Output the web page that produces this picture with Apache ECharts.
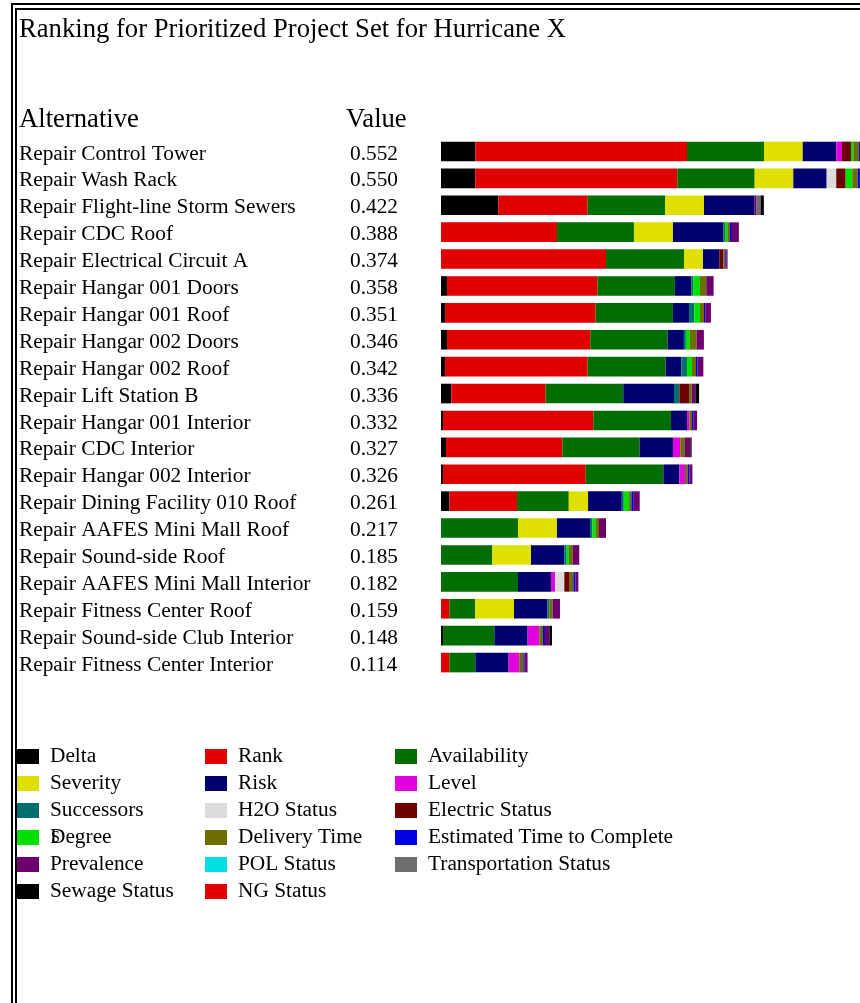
<!DOCTYPE html>
<html><head><meta charset="utf-8">
<script src="https://cdn.jsdelivr.net/npm/echarts@6/dist/echarts.min.js"></script>
<style>html,body{margin:0;padding:0;background:#fff;}#c{width:860px;height:1003px;}</style>
</head><body><div id="c"></div>
<script>
const alternatives = ["Repair Control Tower","Repair Wash Rack","Repair Flight-line Storm Sewers","Repair CDC Roof","Repair Electrical Circuit A","Repair Hangar 001 Doors","Repair Hangar 001 Roof","Repair Hangar 002 Doors","Repair Hangar 002 Roof","Repair Lift Station B","Repair Hangar 001 Interior","Repair CDC Interior","Repair Hangar 002 Interior","Repair Dining Facility 010 Roof","Repair AAFES Mini Mall Roof","Repair Sound-side Roof","Repair AAFES Mini Mall Interior","Repair Fitness Center Roof","Repair Sound-side Club Interior","Repair Fitness Center Interior"];
const totals = [0.552,0.550,0.422,0.388,0.374,0.358,0.351,0.346,0.342,0.336,0.332,0.327,0.326,0.261,0.217,0.185,0.182,0.159,0.148,0.114];

const delta        = [.0448,.0448,.0748,0,0,.0078,.0052,.0078,.0052,.0135,.0026,.0065,.0026,.0109,0,0,0,0,.0026,0];
const rank         = [.2764,.2637,.1167,.1514,.2154,.1967,.1967,.1871,.1863,.1231,.1963,.1519,.1863,.0884,0,0,0,.0109,0,.0109];
const availability = [.1005,.101,.1013,.1005,.1018,.1009,.1009,.1009,.1018,.1014,.1014,.1009,.1014,.0675,.1005,.067,.1005,.0335,.067,.0339];
const severity     = [.0505,.0504,.0505,.0509,.0248,0,0,0,0,0,0,0,0,.0252,.0509,.0505,0,.0509,0,0];
const risk         = [.0439,.0436,.0661,.0657,.0213,.0213,.0209,.0213,.0205,.0662,.0209,.0435,.0209,.044,.0431,.0435,.0431,.0435,.0435,.0435];
const level        = [.0074,0,0,0,0,0,0,0,0,0,.003,.0096,.0074,0,0,0,.0052,0,.0152,.0139];
const successors   = [0,0,0,.0022,0,.0026,.007,.0026,.0074,.007,0,0,0,.0026,.003,.003,0,.0026,0,0];
const h2oStatus    = [0,.0125,0,0,0,0,0,0,0,0,0,0,0,0,0,0,.0122,0,0,0];
const electric     = [.0117,.0123,0,0,.0052,0,0,0,0,.0126,0,0,0,0,0,0,.0061,0,0,0];
const degree       = [.003,.0086,0,.003,0,.0087,.0074,.0052,.0065,0,0,0,0,.007,.0044,.003,0,0,0,0];
const delivery     = [.0074,.007,0,.0035,.0026,.0083,.0052,.0087,.0052,.0035,.0035,.0061,.0035,.003,.0044,.0052,.0057,.0044,.0048,.0052];
const estTime      = [.003,.003,0,.0026,.0013,0,.0017,0,.0022,0,.0022,0,.0022,.003,0,0,.0026,0,.0026,.0017];
const prevalence   = [.0034,.0031,.0026,.0091,.0017,.0096,.0074,.0096,.0074,.0048,.0044,.007,.0039,.0078,.0091,.0083,.0039,.0096,.0057,.0039];
const polStatus    = [0,0,0,0,0,0,0,0,0,0,0,0,0,0,0,0,0,0,0,0];
const transport    = [0,0,.0052,0,0,0,0,0,0,0,0,0,0,0,0,0,0,0,0,0];
const sewage       = [0,0,.0043,0,0,0,0,0,0,.0048,0,.0017,0,0,0,0,0,0,.0035,0];
const ngStatus     = [0,0,0,0,0,0,0,0,0,0,0,0,0,0,0,0,0,0,0,0];

const seriesDefs = [
  ["Delta", delta, "#000000"],
  ["Rank", rank, "#e00000"],
  ["Availability", availability, "#006e00"],
  ["Severity", severity, "#e0e000"],
  ["Risk", risk, "#00006e"],
  ["Level", level, "#e000e0"],
  ["Successors", successors, "#006e6e"],
  ["H2O Status", h2oStatus, "#dcdcdc"],
  ["Electric Status", electric, "#6e0000"],
  ["Degree", degree, "#00e000"],
  ["Delivery Time", delivery, "#6e6e00"],
  ["Estimated Time to Complete", estTime, "#0000e0"],
  ["Prevalence", prevalence, "#6e006e"],
  ["POL Status", polStatus, "#00e0e0"],
  ["Transportation Status", transport, "#6e6e6e"],
  ["Sewage Status", sewage, "#000000"],
  ["NG Status", ngStatus, "#e00000"]
];
const legendCol1 = ["Delta","Severity","Successors","Degree","Prevalence","Sewage Status"];
const legendCol2 = ["Rank","Risk","H2O Status","Delivery Time","POL Status","NG Status"];
const legendCol3 = ["Availability","Level","Electric Status","Estimated Time to Complete","Transportation Status"];

const FONT = "Liberation Serif";
const FS = 21.33;
const chart = echarts.init(document.getElementById('c'), null, {renderer:'canvas'});
const legendBase = {
  orient:'vertical', top:746, itemWidth:22, itemHeight:15, itemGap:6, icon:'rect',
  selectedMode:false, padding:0,
  textStyle:{fontFamily:FONT, fontSize:FS, color:'#000', padding:[0,0,0,6]}
};
const frame = [
  {type:'rect', shape:{x:11,y:3,width:2,height:1000}, style:{fill:'#000'}},
  {type:'rect', shape:{x:11,y:3,width:849,height:2}, style:{fill:'#000'}},
  {type:'rect', shape:{x:15,y:8,width:2,height:995}, style:{fill:'#000'}},
  {type:'rect', shape:{x:15,y:8,width:845,height:2}, style:{fill:'#000'}}
];
const hdr = (text, x, y) => ({type:'text', x, y, style:{text, font:'26.67px "Liberation Serif"', fill:'#000', textVerticalAlign:'middle'}});
chart.setOption({
  animation:false,
  backgroundColor:'#fff',
  grid:{left:441, right:0, top:138, height:538, containLabel:false},
  xAxis:{type:'value', min:0, max:0.547, show:false},
  yAxis:{type:'category', inverse:true, data:alternatives,
    axisLine:{show:false}, axisTick:{show:false}, splitLine:{show:false},
    axisLabel:{interval:0, hideOverlap:false, align:'left', margin:422, fontFamily:FONT, fontSize:FS, color:'#000', padding:[5,0,0,0],
      formatter:(v, i)=>'{n|'+v+'}{v|'+totals[i].toFixed(3)+'}',
      rich:{n:{width:331, fontFamily:FONT, fontSize:FS, color:'#000'}, v:{fontFamily:FONT, fontSize:FS, color:'#000'}}}
  },
  legend:[
    Object.assign({}, legendBase, {left:17, data:legendCol1}),
    Object.assign({}, legendBase, {left:205, data:legendCol2}),
    Object.assign({}, legendBase, {left:395, data:legendCol3})
  ],
  graphic: frame.concat([
    hdr('Ranking for Prioritized Project Set for Hurricane X', 19, 29.5),
    hdr('Alternative', 19, 120),
    hdr('Value', 346, 120),
    {type:'text', x:51, y:838, style:{text:'S', font:'16px "Liberation Serif"', fill:'#000', textVerticalAlign:'middle'}}
  ]),
  series: seriesDefs.map(([name, data, color]) => ({
    type:'bar', name, data, stack:'total', barWidth:'73%',
    itemStyle:{color}, emphasis:{disabled:true}, clip:true
  }))
});
</script></body></html>
